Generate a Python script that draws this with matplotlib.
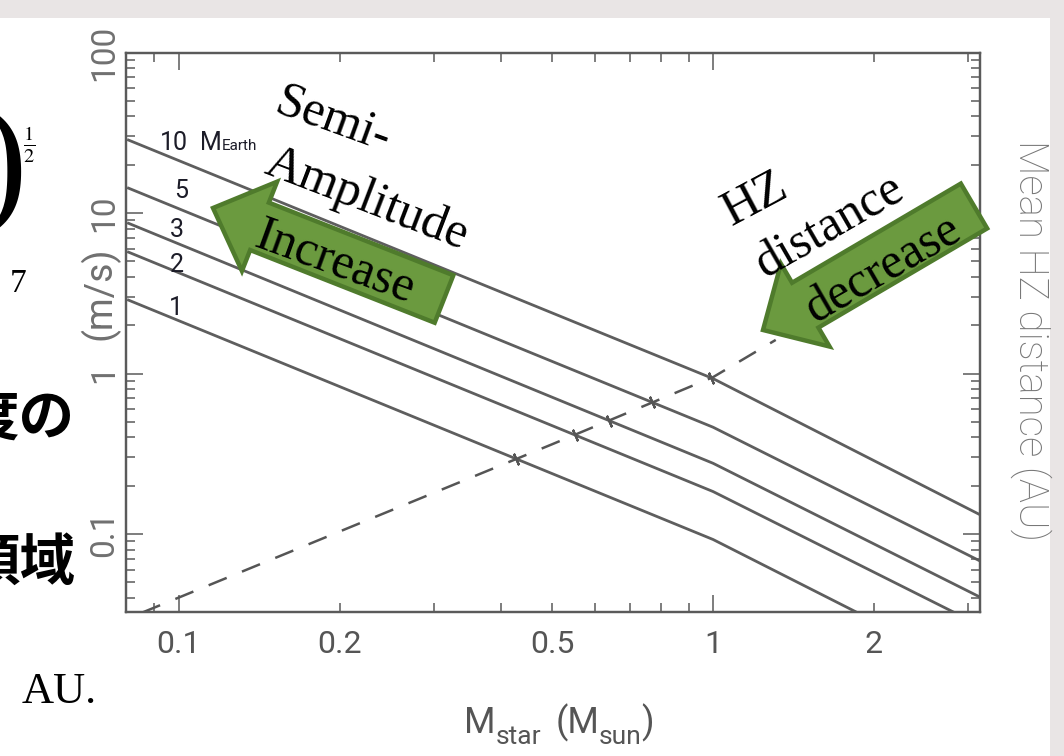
import numpy as np
import matplotlib
matplotlib.use("Agg")
import matplotlib.pyplot as plt
from matplotlib.patches import Polygon, Rectangle

# ---------------- data ----------------
m_star = [0.08, 1.0, 3.16]                 # stellar mass (M_sun), kink at 1
k_10 = [28.7, 0.93, 0.132]                 # semi-amplitude (m/s), 10 M_earth
k_5 = [14.4, 0.463, 0.068]
k_3 = [8.7, 0.276, 0.0405]
k_2 = [5.75, 0.184, 0.027]
k_1 = [2.89, 0.0925, 0.0133]
planet_masses = ["10", "5", "3", "2", "1"]

hz_mass = [0.0853, 0.5, 1.0, 1.31]         # stellar mass (M_sun)
hz_dist = [0.0324, 0.363, 0.95, 1.62]      # mean HZ distance (AU)

xtick_major = [0.1, 1]
xtick_minor = [0.09, 0.2, 0.3, 0.4, 0.5, 0.6, 0.7, 0.8, 0.9, 2, 3]
xtick_labels = {0.1: "0.1", 0.2: "0.2", 0.5: "0.5", 1: "1", 2: "2"}
ytick_vals = [0.1, 1, 10, 100]
ytick_labels = ["0.1", "1", "10", "100"]

# ---------------- figure ----------------
W, H = 1064, 756
fig = plt.figure(figsize=(W / 100, H / 100), dpi=100)
fig.patch.set_facecolor("white")


def fp(x, y):
    return (x / W, 1 - y / H)


# slide background strips
fig.patches.append(Rectangle((0, 1 - 18 / H), 1, 18 / H, transform=fig.transFigure,
                             facecolor="#e9e5e5", edgecolor="none", zorder=0))
fig.patches.append(Rectangle((1050 / W, 0), 14 / W, 1, transform=fig.transFigure,
                             facecolor="#e9e5e5", edgecolor="none", zorder=0))

ax = fig.add_axes([126 / W, 1 - 612 / H, 854 / W, 559.5 / H])
ax.set_xscale("log")
ax.set_yscale("log")
ax.set_xlim(0.0796, 3.16)
ax.set_ylim(0.0327, 100)

line_col = "#5e5e5e"
series = [k_10, k_5, k_3, k_2, k_1]
for k in series:
    ax.plot(m_star, k, color=line_col, lw=2.0, solid_capstyle="butt")

ax2 = ax.twinx()
ax2.set_yscale("log")
ax2.set_ylim(0.0327, 100)
ax2.plot(hz_mass, hz_dist, color="#555555", lw=1.8, dashes=(7.8, 6.6))

# small perpendicular marks where the HZ curve crosses each K curve
lx = np.linspace(np.log10(hz_mass[0]), np.log10(hz_mass[-1]), 4000)
hz_i = np.interp(lx, np.log10(hz_mass), np.log10(hz_dist))
for k in series:
    k_i = np.interp(lx, np.log10(m_star), np.log10(k))
    d = k_i - hz_i
    idx = np.where(np.diff(np.sign(d)) != 0)[0]
    for i in idx:
        ax2.plot(10 ** lx[i], 10 ** hz_i[i], marker=(2, 2, 24), ms=9,
                 mew=1.6, color="#555555", ls="none")

spine_col = "#5a5a5a"
for a in (ax, ax2):
    for s in a.spines.values():
        s.set_color(spine_col)
        s.set_linewidth(1.6)

ax.set_xticks(xtick_major, [xtick_labels.get(v, "") for v in xtick_major])
ax.set_xticks(xtick_minor, [xtick_labels.get(v, "") for v in xtick_minor], minor=True)
ax.set_yticks(ytick_vals, ytick_labels)
ax.yaxis.set_minor_locator(matplotlib.ticker.LogLocator(base=10, subs=np.arange(2, 10)))
ax.yaxis.set_minor_formatter(matplotlib.ticker.NullFormatter())
ax2.set_yticks(ytick_vals, [""] * len(ytick_vals))
ax2.yaxis.set_minor_locator(matplotlib.ticker.LogLocator(base=10, subs=np.arange(2, 10)))
ax2.yaxis.set_minor_formatter(matplotlib.ticker.NullFormatter())

tick_font = ["Roboto", "DejaVu Sans"]
ax.tick_params(axis="x", which="both", direction="in", top=True, colors=spine_col,
               labelcolor="#555555", labelsize=23, pad=13)
ax.tick_params(axis="y", which="both", direction="in", colors=spine_col,
               labelcolor="#707070", labelsize=24, pad=4, labelrotation=90)
ax2.tick_params(axis="y", which="both", direction="in", colors=spine_col)
for a in (ax, ax2):
    a.tick_params(which="major", length=12, width=1.1)
    a.tick_params(which="minor", length=6.5, width=1.1)
for lab in ax.get_xticklabels(which="both") + ax.get_yticklabels():
    lab.set_fontfamily(tick_font)
    lab.set_fontweight("normal")
for lab in ax.get_yticklabels():
    lab.set_verticalalignment("center")

# axis titles
fig.text(*fp(99, 293), "(m/s)", rotation=90, ha="center", va="center",
         fontsize=27, color="#707070", family=tick_font)
fig.text(*fp(1031, 340), "Mean HZ distance (AU)", rotation=270, ha="center", va="center",
         fontsize=29, color="#777777", family=tick_font, fontweight="light")

renderer = fig.canvas.get_renderer()


def runs(x0, y0, parts, **kw):
    x = x0
    for txt, size, dy in parts:
        if txt == "":
            x += size
            continue
        t = fig.text(*fp(x, y0 + dy), txt, fontsize=size, ha="left", va="baseline", **kw)
        x += t.get_window_extent(renderer).width


runs(464, 733, [("M", 26, 0), ("star", 19, 11), ("", 14, 0), ("(M", 26, 0), ("sun", 19, 11), (")", 26, 0)],
     color="#555555", family=tick_font)

# curve labels
lab_font = ["Roboto", "DejaVu Sans"]
runs(160, 150, [(planet_masses[0], 18, 0), ("", 12, 0), ("M", 18, 0), ("Earth", 11, 0)],
     color="#1c1c28", family=lab_font)
label_pos = [(181, 198), (177, 237), (177, 272), (176, 315)]
for txt, (x, y) in zip(planet_masses[1:], label_pos):
    fig.text(*fp(x, y), txt, fontsize=18, ha="center", va="baseline", color="#1c1c28", family=lab_font)


# green block arrows
def block_arrow(tip, tail, half_body, half_head, head_len):
    tip = np.array(tip, float)
    tail = np.array(tail, float)
    d = tail - tip
    L = np.hypot(*d)
    u = d / L
    n = np.array([-u[1], u[0]])
    hb = tip + u * head_len
    pts = [tip, hb + n * half_head, hb + n * half_body, tail + n * half_body,
           tail - n * half_body, hb - n * half_body, hb - n * half_head]
    pts = [fp(*p) for p in pts]
    fig.patches.append(Polygon(pts, closed=True, transform=fig.transFigure,
                               facecolor="#6b9a3f", edgecolor="#4f7b2c", lw=3.2,
                               joinstyle="miter", zorder=5))


block_arrow((213, 208), (444, 299), 25.5, 48, 50)
block_arrow((763, 330), (974, 206), 26, 48, 49)

serif = ["Liberation Serif", "DejaVu Serif"]
notes = [("Semi-", 333, 120, -20), ("Amplitude", 367, 200, -21), ("Increase", 335, 262, -20),
         ("HZ", 755, 200, 28), ("distance", 830, 227, 30), ("decrease", 883, 270, 30)]
for txt, x, y, rot in notes:
    fig.text(*fp(x, y), txt, fontsize=36, rotation=rot, ha="center", va="center",
             rotation_mode="anchor", color="black", family=serif, zorder=10)

# fragments of the slide text on the left (cut by the picture edge, as in the slide)
fig.text(*fp(3, 172), ")", fontsize=105, ha="center", va="center", family=serif,
         fontweight="light", color="black", zorder=10)
fig.text(*fp(29, 145), r"$\frac{1}{2}$", fontsize=21, ha="center", va="center",
         math_fontfamily="stix", color="black", zorder=10)
fig.text(*fp(18, 292), "7", fontsize=24, ha="center", va="baseline", family=serif, color="black", zorder=10)
fig.text(*fp(75, 435), "度の", fontsize=40, ha="right", va="baseline", family=["Noto Sans CJK JP"],
         fontweight="bold", color="black", zorder=10)
fig.text(*fp(75, 580), "領域", fontsize=40, ha="right", va="baseline", family=["Noto Sans CJK JP"],
         fontweight="bold", color="black", zorder=10)
fig.text(*fp(22, 703), "AU.", fontsize=32, ha="left", va="baseline", family=serif, color="black", zorder=10)

fig.savefig("out.png", dpi=100)
